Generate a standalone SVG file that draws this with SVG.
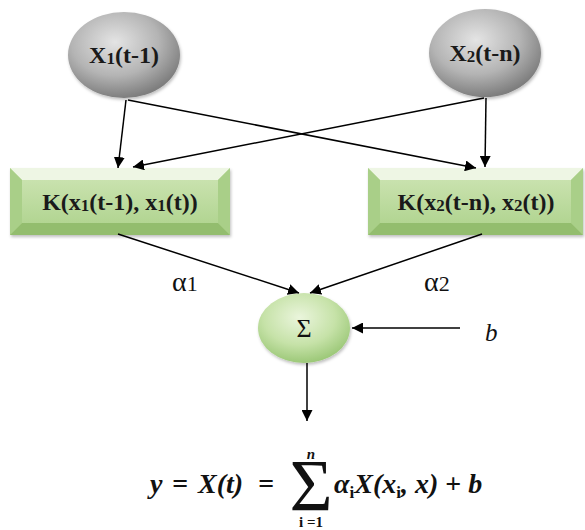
<svg xmlns="http://www.w3.org/2000/svg" width="585" height="530" viewBox="0 0 585 530">
<defs>
  <radialGradient id="grey" cx="0.42" cy="0.35" r="0.65">
    <stop offset="0" stop-color="#e4e4e4"/>
    <stop offset="0.6" stop-color="#b4b4b4"/>
    <stop offset="1" stop-color="#7e7e7e"/>
  </radialGradient>
  <radialGradient id="green" cx="0.45" cy="0.35" r="0.65">
    <stop offset="0" stop-color="#eaf5dc"/>
    <stop offset="0.6" stop-color="#c6e2a8"/>
    <stop offset="1" stop-color="#9cc878"/>
  </radialGradient>
  <linearGradient id="boxg" x1="0" y1="0" x2="0" y2="1">
    <stop offset="0" stop-color="#c9e2ae"/>
    <stop offset="1" stop-color="#b2d592"/>
  </linearGradient>
  <marker id="ah" viewBox="0 0 10 10" refX="10" refY="5" markerWidth="11" markerHeight="11" markerUnits="userSpaceOnUse" orient="auto">
    <path d="M0,0 L10,5 L0,10 z" fill="#000"/>
  </marker>
  <filter id="sh" x="-10%" y="-10%" width="120%" height="130%">
    <feDropShadow dx="1" dy="2" stdDeviation="1.5" flood-color="#000" flood-opacity="0.25"/>
  </filter>
</defs>
<style>
  .lbl { font-family: "Liberation Serif", "Times New Roman", serif; font-weight: bold; fill: #1a1a1a; }
  .reg { font-family: "Liberation Serif", "Times New Roman", serif; fill: #111; }
  .math { font-family: "Liberation Serif", "Times New Roman", serif; font-weight: bold; font-style: italic; fill: #111; font-size: 28px; }
  .lim { font-family: "Liberation Serif", "Times New Roman", serif; font-weight: bold; fill: #111; font-size: 15px; }
  .conn line { stroke: #000; stroke-width: 1.5; marker-end: url(#ah); }
  .bev-top { fill: #eef6e4; }
  .bev-side { fill: #a9cf88; }
  .bev-bot { fill: #93bd6e; }
</style>

<g id="x1">
  <ellipse cx="124" cy="55" rx="56" ry="43" fill="url(#grey)" filter="url(#sh)"/>
  <text class="lbl" x="124" y="63" font-size="24" text-anchor="middle">X<tspan font-size="17" dy="1">1</tspan><tspan dy="-1">(t-1)</tspan></text>
</g>

<g id="x2">
  <ellipse cx="485" cy="53" rx="56" ry="44" fill="url(#grey)" filter="url(#sh)"/>
  <text class="lbl" x="485" y="61" font-size="24" text-anchor="middle">X<tspan font-size="17" dy="1">2</tspan><tspan dy="-1">(t-n)</tspan></text>
</g>

<g id="k1">
  <g filter="url(#sh)">
    <rect x="10" y="168" width="220" height="67" fill="url(#boxg)"/>
  </g>
  <polygon class="bev-top" points="10,168 230,168 218,180 22,180"/>
  <polygon class="bev-side" points="10,168 22,180 22,223 10,235"/>
  <polygon class="bev-side" points="230,168 218,180 218,223 230,235"/>
  <polygon class="bev-bot" points="10,235 22,223 218,223 230,235"/>
  <rect x="22" y="180" width="196" height="43" fill="url(#boxg)"/>
  <text class="lbl" x="120" y="210" font-size="24" text-anchor="middle">K(x<tspan font-size="17" dy="1">1</tspan><tspan dy="-1">(t-1), x</tspan><tspan font-size="17" dy="1">1</tspan><tspan dy="-1">(t))</tspan></text>
</g>

<g id="k2">
  <g filter="url(#sh)">
    <rect x="368" y="168" width="215" height="67" fill="url(#boxg)"/>
  </g>
  <polygon class="bev-top" points="368,168 583,168 571,180 380,180"/>
  <polygon class="bev-side" points="368,168 380,180 380,223 368,235"/>
  <polygon class="bev-side" points="583,168 571,180 571,223 583,235"/>
  <polygon class="bev-bot" points="368,235 380,223 571,223 583,235"/>
  <rect x="380" y="180" width="191" height="43" fill="url(#boxg)"/>
  <text class="lbl" x="476" y="210" font-size="24" text-anchor="middle">K(x<tspan font-size="17" dy="1">2</tspan><tspan dy="-1">(t-n),  x</tspan><tspan font-size="17" dy="1">2</tspan><tspan dy="-1">(t))</tspan></text>
</g>

<g id="sum">
  <ellipse cx="304" cy="328" rx="46" ry="35" fill="url(#green)" filter="url(#sh)"/>
  <text class="reg" x="304" y="337" font-size="26" text-anchor="middle">Σ</text>
</g>

<g id="labels">
  <text class="reg" x="172" y="291" font-size="28">α<tspan font-size="22">1</tspan></text>
  <text class="reg" x="424" y="291" font-size="28">α<tspan font-size="22">2</tspan></text>
  <text class="reg" x="485" y="341" font-size="25" font-style="italic">b</text>
</g>

<g id="connectors" class="conn">
  <line x1="126" y1="100" x2="118" y2="168"/>
  <line x1="128" y1="100" x2="476" y2="168"/>
  <line x1="486" y1="98" x2="485" y2="167"/>
  <line x1="484" y1="98" x2="133" y2="167"/>
  <line x1="118" y1="234" x2="299" y2="293"/>
  <line x1="482" y1="234" x2="310" y2="293"/>
  <line x1="460" y1="328" x2="352" y2="328"/>
  <line x1="307" y1="363" x2="307" y2="421"/>
</g>

<g id="formula">
  <text class="math" x="150" y="493">y</text>
  <text class="math" x="172" y="493" font-style="normal">=</text>
  <text class="math" x="198" y="493">X(t)</text>
  <text class="math" x="258" y="493" font-style="normal">=</text>
  <text class="reg" x="311" y="511" font-size="74" text-anchor="middle">Σ</text>
  <text class="lim" x="311" y="459" text-anchor="middle" font-style="italic">n</text>
  <text class="lim" x="311" y="527" text-anchor="middle">i =1</text>
  <text class="math" x="334" y="493">α<tspan font-size="17" dy="5" font-style="normal">i</tspan><tspan dy="-5">X(x</tspan><tspan font-size="17" dy="5" font-style="normal">i</tspan><tspan dy="-5">, x) </tspan><tspan font-style="normal">+</tspan><tspan> b</tspan></text>
</g>
</svg>
